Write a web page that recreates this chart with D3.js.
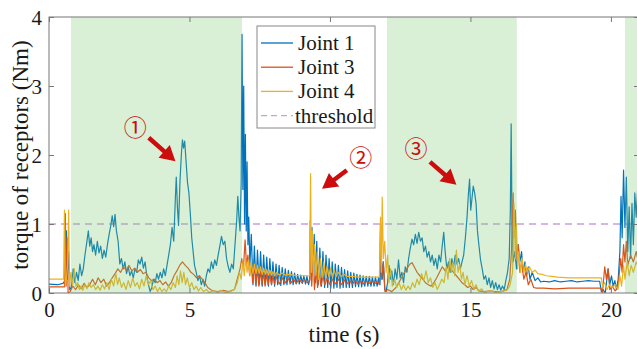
<!DOCTYPE html>
<html>
<head>
<meta charset="utf-8">
<script src="https://cdn.jsdelivr.net/npm/d3@7"></script>
<style>
  body { margin: 0; background: #fff; }
  svg { display: block; }
</style>
</head>
<body>
<svg id="chart" width="637" height="349"></svg>
<script>
// [time (s), torque (Nm)]
var joint1 = [
  [0,0.13],[0.3,0.12],[0.5,0.14],[0.55,0.17],[0.6,0.17],[0.62,0.9],[0.65,0.2],[0.7,0.6],[0.74,0.05],
  [0.8,0.08],[0.86,0.35],[0.92,0.15],[0.98,0.3],[1.04,0.18],[1.1,0.42],[1.16,0.25],[1.22,0.35],[1.28,0.55],
  [1.34,0.72],[1.4,0.9],[1.45,0.68],[1.5,0.8],[1.55,0.6],[1.6,0.7],[1.66,0.55],[1.72,0.75],[1.78,0.58],
  [1.84,0.68],[1.9,0.5],[1.96,0.62],[2.02,0.52],[2.08,0.7],[2.14,0.85],[2.2,0.98],[2.25,1.12],[2.3,0.96],
  [2.35,1.14],[2.4,0.9],[2.46,0.75],[2.52,0.42],[2.58,0.5],[2.64,0.35],[2.7,0.45],[2.76,0.28],[2.82,0.38],
  [2.88,0.25],[2.94,0.32],[3.0,0.22],[3.06,0.35],[3.12,0.3],[3.18,0.48],[3.24,0.42],[3.3,0.52],[3.36,0.36],
  [3.42,0.45],[3.48,0.25],[3.54,0.12],[3.6,0.02],[3.66,0.08],[3.72,0.2],[3.78,0.15],[3.84,0.28],[3.9,0.2],
  [3.96,0.3],[4.02,0.22],[4.08,0.35],[4.14,0.25],[4.2,0.4],[4.26,0.55],[4.32,0.7],[4.38,0.95],[4.44,0.75],
  [4.5,1.4],[4.53,1.68],[4.57,1.25],[4.61,0.98],[4.66,1.6],[4.71,2.0],[4.75,2.22],[4.79,2.1],[4.83,2.2],
  [4.88,1.9],[4.93,1.6],[4.98,1.45],[5.03,1.15],[5.08,0.8],[5.13,0.6],[5.18,0.4],[5.24,0.3],[5.3,0.18],
  [5.36,0.25],[5.42,0.12],[5.48,0.2],[5.54,0.1],[5.6,0.25],[5.66,0.35],[5.72,0.3],[5.78,0.45],[5.84,0.35],
  [5.9,0.48],[5.96,0.4],[6.02,0.55],[6.08,0.68],[6.14,0.82],[6.2,0.7],[6.26,0.75],[6.32,0.5],[6.38,0.38],
  [6.44,0.3],[6.5,0.42],[6.56,0.35],[6.62,0.7],[6.68,1.05],[6.72,1.4],[6.76,1.1],[6.8,0.9],[6.84,1.6],
  [6.87,3.75],[6.9,1.5],[6.93,3.0],[6.96,1.0],[6.99,2.3],[7.02,0.9],[7.05,1.9],[7.08,0.7],[7.11,1.1],
  [7.15,0.4],[7.2,0.85],[7.26,0.12],[7.31,0.68],[7.37,0.1],[7.42,0.62],[7.48,0.12],[7.53,0.6],[7.59,0.1],
  [7.64,0.55],[7.7,0.12],[7.75,0.52],[7.81,0.1],[7.86,0.5],[7.92,0.12],[7.97,0.45],[8.03,0.1],[8.08,0.42],
  [8.14,0.12],[8.19,0.4],[8.25,0.11],[8.3,0.37],[8.36,0.12],[8.41,0.35],[8.47,0.12],[8.52,0.33],[8.58,0.13],
  [8.63,0.31],[8.69,0.12],[8.74,0.29],[8.8,0.13],[8.85,0.27],[8.91,0.13],[8.96,0.26],[9.02,0.14],[9.07,0.25],
  [9.13,0.13],[9.18,0.24],[9.24,0.12],[9.28,0.2],[9.3,1.05],[9.33,0.3],[9.36,0.95],[9.4,0.25],[9.44,0.85],
  [9.48,0.15],[9.53,0.75],[9.58,0.12],[9.64,0.65],[9.7,0.1],[9.75,0.6],[9.81,0.08],[9.86,0.55],[9.92,0.08],
  [9.97,0.5],[10.03,0.07],[10.08,0.45],[10.14,0.07],[10.19,0.42],[10.25,0.08],[10.3,0.4],[10.36,0.07],
  [10.41,0.37],[10.47,0.08],[10.52,0.34],[10.58,0.08],[10.63,0.32],[10.69,0.08],[10.74,0.3],[10.8,0.08],
  [10.85,0.29],[10.91,0.09],[10.96,0.27],[11.02,0.09],[11.07,0.26],[11.13,0.09],[11.18,0.25],[11.24,0.1],
  [11.29,0.24],[11.35,0.1],[11.4,0.24],[11.46,0.1],[11.51,0.23],[11.57,0.1],[11.62,0.23],[11.68,0.1],
  [11.73,0.22],[11.78,0.12],[11.82,0.6],[11.86,0.2],[11.9,0.45],[11.95,0.05],[12.0,0.02],
  [12.05,0.15],[12.1,0.4],[12.15,0.2],[12.2,0.32],[12.26,0.12],[12.32,0.35],[12.38,0.2],[12.44,0.48],
  [12.5,0.22],[12.56,0.3],[12.62,0.15],[12.68,0.38],[12.74,0.3],[12.8,0.5],[12.86,0.65],[12.92,0.78],
  [12.98,0.7],[13.04,0.85],[13.1,0.72],[13.16,0.88],[13.22,0.75],[13.28,0.8],[13.34,0.6],[13.4,0.68],
  [13.46,0.52],[13.52,0.6],[13.58,0.45],[13.64,0.55],[13.7,0.4],[13.76,0.5],[13.82,0.35],[13.88,0.55],
  [13.94,0.45],[14.0,0.7],[14.05,0.88],[14.1,0.6],[14.16,0.35],[14.22,0.45],[14.28,0.3],[14.34,0.5],
  [14.4,0.38],[14.46,0.55],[14.52,0.42],[14.58,0.5],[14.64,0.35],[14.7,0.45],[14.76,0.55],[14.82,0.8],
  [14.88,1.1],[14.93,1.45],[14.97,1.65],[15.01,1.2],[15.05,1.35],[15.1,1.55],[15.15,1.45],[15.2,1.3],
  [15.25,0.9],[15.3,0.7],[15.36,0.48],[15.42,0.35],[15.48,0.2],[15.54,0.25],[15.6,0.12],[15.66,0.22],
  [15.72,0.08],[15.78,0.18],[15.84,0.06],[15.9,0.15],[15.96,0.05],[16.02,0.12],[16.08,0.04],[16.14,0.1],
  [16.2,0.05],[16.26,0.18],[16.32,0.3],[16.38,0.5],[16.42,1.2],[16.45,2.45],[16.48,1.0],[16.52,0.45],
  [16.58,0.6],[16.64,0.35],[16.7,0.7],[16.76,0.45],[16.82,0.6],[16.88,0.3],[16.94,0.45],[17.0,0.25],
  [17.06,0.38],[17.12,0.2],[17.2,0.3],[17.3,0.18],[17.4,0.22],[17.5,0.16],[17.6,0.17],[17.8,0.16],
  [18.0,0.18],[18.2,0.16],[18.4,0.17],[18.6,0.18],[18.8,0.16],[19.0,0.17],[19.2,0.18],[19.4,0.17],
  [19.6,0.17],[19.66,0.02],[19.72,0.05],[19.8,0.0],[19.9,0.35],[19.96,0.12],[20.02,0.25],[20.08,0.1],
  [20.14,0.18],[20.2,0.05],[20.26,0.2],[20.32,0.6],[20.36,1.4],[20.4,0.8],[20.45,1.78],[20.5,0.95],
  [20.55,1.68],[20.6,0.6],[20.65,1.25],[20.7,0.5],[20.75,1.3],[20.8,0.7],[20.85,1.45],[20.9,1.1],
  [20.95,1.5],[21.0,0.9]
];

var joint3 = [
  [0,0.09],[0.55,0.09],[0.58,1.15],[0.61,0.1],[0.65,0.8],[0.68,0.0],[0.75,0.02],[0.85,0.1],[0.95,0.05],
  [1.05,0.12],[1.15,0.06],[1.25,0.14],[1.35,0.08],[1.45,0.12],[1.55,0.2],[1.65,0.12],[1.75,0.22],
  [1.85,0.15],[1.95,0.2],[2.05,0.1],[2.15,0.15],[2.25,0.22],[2.35,0.28],[2.45,0.35],[2.55,0.3],
  [2.65,0.38],[2.75,0.33],[2.85,0.4],[2.95,0.32],[3.05,0.36],[3.15,0.3],[3.25,0.34],[3.35,0.28],
  [3.45,0.3],[3.55,0.22],[3.65,0.18],[3.75,0.2],[3.85,0.15],[3.95,0.18],[4.05,0.12],[4.15,0.16],
  [4.25,0.1],[4.35,0.15],[4.45,0.25],[4.55,0.32],[4.65,0.4],[4.75,0.45],[4.85,0.4],[4.95,0.36],
  [5.05,0.3],[5.15,0.27],[5.25,0.22],[5.35,0.25],[5.45,0.2],[5.55,0.15],[5.65,0.08],[5.75,0.05],
  [5.85,0.03],[6.0,0.02],[6.2,0.04],[6.4,0.02],[6.6,0.05],[6.7,0.2],[6.8,0.35],[6.86,0.5],[6.92,0.35],
  [6.98,0.77],[7.03,0.4],[7.08,0.55],[7.14,0.25],[7.2,0.4],[7.25,0.15],[7.31,0.4],[7.36,0.12],[7.42,0.35],
  [7.47,0.1],[7.53,0.32],[7.58,0.12],[7.64,0.3],[7.69,0.1],[7.75,0.28],[7.8,0.12],[7.86,0.27],[7.92,0.12],
  [7.97,0.25],[8.03,0.13],[8.08,0.24],[8.2,0.13],[8.3,0.22],[8.4,0.14],[8.5,0.22],[8.6,0.14],[8.7,0.2],
  [8.8,0.14],[8.9,0.2],[9.0,0.15],[9.1,0.19],[9.2,0.15],[9.28,0.18],[9.31,0.55],[9.35,0.1],[9.4,0.45],
  [9.45,0.05],[9.5,0.35],[9.56,0.08],[9.62,0.3],[9.68,0.1],[9.75,0.25],[9.82,0.12],[9.9,0.22],[10.0,0.12],
  [10.1,0.2],[10.2,0.13],[10.3,0.2],[10.4,0.12],[10.5,0.19],[10.6,0.13],[10.7,0.18],[10.8,0.13],
  [10.9,0.18],[11.0,0.13],[11.1,0.17],[11.2,0.13],[11.3,0.17],[11.4,0.14],[11.5,0.17],[11.6,0.14],
  [11.7,0.16],[11.76,0.12],[11.8,1.0],[11.84,0.2],[11.9,0.45],[11.96,0.02],[12.05,0.05],[12.2,0.02],
  [12.35,0.08],[12.45,0.15],[12.55,0.22],[12.65,0.3],[12.75,0.36],[12.85,0.42],[12.92,0.44],[13.0,0.38],
  [13.1,0.3],[13.2,0.25],[13.3,0.2],[13.4,0.15],[13.5,0.12],[13.6,0.1],[13.7,0.15],[13.8,0.22],
  [13.9,0.3],[14.0,0.38],[14.1,0.32],[14.2,0.4],[14.3,0.35],[14.4,0.3],[14.5,0.25],[14.6,0.2],
  [14.7,0.15],[14.8,0.12],[14.9,0.08],[15.0,0.1],[15.1,0.05],[15.2,0.08],[15.3,0.03],[15.5,0.02],
  [15.7,0.03],[15.9,0.02],[16.1,0.02],[16.3,0.05],[16.4,0.2],[16.46,0.6],[16.52,1.45],[16.55,0.8],
  [16.6,1.2],[16.65,0.5],[16.7,0.7],[16.76,0.3],[16.82,0.45],[16.9,0.2],[16.98,0.3],[17.06,0.12],
  [17.15,0.2],[17.25,0.08],[17.35,0.07],[17.6,0.07],[18.0,0.06],[18.5,0.07],[19.0,0.07],[19.5,0.07],
  [19.65,0.07],[19.7,0.0],[19.78,0.38],[19.84,0.2],[19.9,0.35],[19.96,0.05],[20.05,0.1],[20.15,0.03],
  [20.25,0.08],[20.35,0.5],[20.4,0.3],[20.45,0.7],[20.5,0.45],[20.55,0.75],[20.6,0.4],[20.7,0.55],
  [20.8,0.45],[20.9,0.6],[21.0,0.4]
];

var joint4 = [
  [0,0.2],[0.52,0.2],[0.55,1.2],[0.58,0.1],[0.62,0.2],[0.66,0.4],[0.7,1.2],[0.73,0.1],[0.78,0.3],
  [0.84,0.12],[0.9,0.35],[0.96,0.1],[1.02,0.15],[1.08,0.05],[1.14,0.1],[1.2,0.04],[1.28,0.12],[1.35,0.06],
  [1.42,0.15],[1.5,0.08],[1.58,0.12],[1.66,0.05],[1.74,0.1],[1.82,0.04],[1.9,0.12],[1.98,0.06],[2.06,0.15],
  [2.14,0.05],[2.22,0.2],[2.3,0.1],[2.38,0.28],[2.44,0.12],[2.5,0.22],[2.58,0.08],[2.66,0.15],[2.74,0.05],
  [2.82,0.18],[2.9,0.08],[2.98,0.22],[3.06,0.1],[3.14,0.15],[3.22,0.06],[3.3,0.2],[3.38,0.1],[3.46,0.25],
  [3.54,0.12],[3.62,0.18],[3.7,0.05],[3.78,0.1],[3.86,0.02],[3.94,0.08],[4.02,0.02],[4.1,0.06],[4.18,0.02],
  [4.26,0.1],[4.34,0.05],[4.42,0.15],[4.5,0.08],[4.56,0.25],[4.62,0.12],[4.68,0.32],[4.74,0.15],[4.8,0.3],
  [4.86,0.12],[4.92,0.22],[5.0,0.08],[5.08,0.15],[5.16,0.05],[5.24,0.1],[5.32,0.03],[5.4,0.08],[5.5,0.02],
  [5.6,0.05],[5.7,0.01],[5.85,0.03],[6.0,0.01],[6.15,0.03],[6.3,0.01],[6.45,0.02],[6.6,0.05],[6.7,0.15],
  [6.78,0.3],[6.84,0.2],[6.9,0.45],[6.95,0.25],[7.0,0.5],[7.05,0.3],[7.1,0.48],[7.15,0.25],[7.2,0.45],
  [7.26,0.28],[7.31,0.42],[7.37,0.28],[7.42,0.4],[7.48,0.28],[7.53,0.38],[7.59,0.27],[7.64,0.36],[7.7,0.27],
  [7.75,0.34],[7.81,0.26],[7.86,0.33],[7.92,0.26],[7.97,0.31],[8.03,0.25],[8.1,0.3],[8.2,0.26],[8.3,0.29],
  [8.4,0.26],[8.5,0.27],[8.7,0.26],[8.9,0.25],[9.1,0.25],[9.28,0.25],[9.31,1.73],[9.34,0.3],[9.37,0.9],
  [9.41,0.2],[9.45,0.7],[9.5,0.25],[9.55,0.6],[9.6,0.2],[9.66,0.5],[9.72,0.22],[9.78,0.45],[9.84,0.22],
  [9.9,0.4],[9.96,0.24],[10.02,0.36],[10.08,0.24],[10.15,0.33],[10.22,0.24],[10.3,0.3],[10.4,0.24],
  [10.5,0.27],[10.6,0.24],[10.8,0.24],[11.0,0.23],[11.2,0.23],[11.4,0.23],[11.6,0.23],[11.76,0.23],
  [11.8,1.1],[11.83,0.3],[11.86,1.39],[11.9,0.5],[11.95,0.75],[12.0,0.3],[12.05,0.55],[12.1,0.15],
  [12.16,0.35],[12.22,0.1],[12.3,0.2],[12.38,0.08],[12.46,0.15],[12.54,0.05],[12.62,0.12],[12.7,0.04],
  [12.78,0.1],[12.86,0.05],[12.94,0.15],[13.02,0.08],[13.1,0.2],[13.18,0.12],[13.26,0.28],[13.34,0.18],
  [13.42,0.32],[13.5,0.15],[13.58,0.22],[13.66,0.08],[13.74,0.15],[13.82,0.05],[13.9,0.12],[13.98,0.2],
  [14.06,0.15],[14.14,0.38],[14.2,0.2],[14.26,0.5],[14.32,0.3],[14.38,0.45],[14.44,0.25],[14.5,0.62],
  [14.56,0.3],[14.62,0.42],[14.68,0.2],[14.74,0.3],[14.8,0.12],[14.88,0.25],[14.96,0.1],[15.04,0.18],
  [15.12,0.06],[15.2,0.12],[15.28,0.03],[15.4,0.06],[15.5,0.01],[15.7,0.03],[15.9,0.01],[16.1,0.02],
  [16.3,0.04],[16.4,0.1],[16.5,0.3],[16.55,1.3],[16.6,0.5],[16.64,1.0],[16.68,0.35],[16.72,0.6],
  [16.78,0.3],[16.84,0.5],[16.9,0.28],[16.96,0.42],[17.02,0.3],[17.1,0.38],[17.2,0.3],[17.3,0.33],
  [17.4,0.28],[17.55,0.27],[17.7,0.25],[17.9,0.24],[18.1,0.23],[18.5,0.22],[19.0,0.22],[19.5,0.22],
  [19.66,0.22],[19.7,0.1],[19.78,0.15],[19.86,0.05],[19.95,0.12],[20.05,0.08],[20.15,0.12],[20.25,0.05],
  [20.32,0.25],[20.38,0.1],[20.45,0.4],[20.5,0.2],[20.58,0.45],[20.65,0.25],[20.72,0.4],[20.8,0.3],
  [20.9,0.45],[21.0,0.35]
];

var seriesNames = ["Joint 1", "Joint 3", "Joint 4", "threshold"];
var seriesColors = ["#0072BD", "#D95319", "#EDB120", "#c9a0dc"];
var threshold = 1;
// contact phases (shaded), start/end in s
var phases = [[0.78, 6.87], [12.03, 16.65], [20.5, 21]];
var xTicks = [0, 5, 10, 15, 20];
var yTicks = [0, 1, 2, 3, 4];
// circled markers: label, [t, v] of label, arrow tail, arrow tip
var marks = [
  { label: "①", at: [3.07, 2.4], tail: [3.55, 2.25], tip: [4.5, 1.91] },
  { label: "②", at: [11.1, 1.96], tail: [10.6, 1.78], tip: [9.72, 1.51] },
  { label: "③", at: [13.06, 2.09], tail: [13.56, 1.9], tip: [14.5, 1.57] }
];

var svg = d3.select("#chart"),
    margin = { top: 17, left: 49 },
    plotW = 590,
    plotH = 276;

var x = d3.scaleLinear().domain([0, 21]).range([margin.left, margin.left + plotW]);
var y = d3.scaleLinear().domain([0, 4]).range([margin.top + plotH, margin.top]);

var serif = "'Liberation Serif', 'Times New Roman', serif";

svg.append("clipPath").attr("id", "clip")
  .append("rect")
  .attr("x", x(0)).attr("y", y(4))
  .attr("width", plotW).attr("height", plotH);

var plot = svg.append("g").attr("clip-path", "url(#clip)");

// threshold
plot.append("line")
  .attr("x1", x(0)).attr("x2", x(21))
  .attr("y1", y(threshold)).attr("y2", y(threshold))
  .attr("stroke", seriesColors[3])
  .attr("stroke-width", 1.3)
  .attr("stroke-dasharray", "7,5");

var line = d3.line()
  .x(function (d) { return x(d[0]); })
  .y(function (d) { return y(d[1]); });

[joint1, joint3, joint4].forEach(function (s, i) {
  plot.append("path")
    .datum(s)
    .attr("d", line)
    .attr("fill", "none")
    .attr("stroke", seriesColors[i])
    .attr("stroke-width", 1.2)
    .attr("stroke-linejoin", "round");
});

// shaded phases drawn over the lines (transparent patch)
plot.selectAll("rect.phase")
  .data(phases)
  .enter().append("rect")
  .attr("class", "phase")
  .attr("x", function (d) { return x(d[0]); })
  .attr("width", function (d) { return x(d[1]) - x(d[0]); })
  .attr("y", y(4))
  .attr("height", plotH)
  .attr("fill", "#78c86e")
  .attr("fill-opacity", 0.28);

// axes box + ticks
var axisColor = "#777";
svg.append("rect")
  .attr("x", x(0)).attr("y", y(4))
  .attr("width", plotW).attr("height", plotH)
  .attr("fill", "none")
  .attr("stroke", axisColor)
  .attr("stroke-width", 1);

var fmt = d3.format("d");
var xAxis = svg.append("g")
  .attr("transform", "translate(0," + y(0) + ")")
  .call(d3.axisBottom(x).tickValues(xTicks).tickFormat(fmt).tickSize(-5).tickPadding(12));
var xAxisTop = svg.append("g")
  .attr("transform", "translate(0," + y(4) + ")")
  .call(d3.axisTop(x).tickValues(xTicks).tickSize(-5).tickFormat(""));
var yAxis = svg.append("g")
  .attr("transform", "translate(" + x(0) + ",0)")
  .call(d3.axisLeft(y).tickValues(yTicks).tickFormat(fmt).tickSize(-5).tickPadding(7));
var yAxisRight = svg.append("g")
  .attr("transform", "translate(" + x(21) + ",0)")
  .call(d3.axisRight(y).tickValues(yTicks).tickSize(-5).tickFormat(""));

[xAxis, xAxisTop, yAxis, yAxisRight].forEach(function (a) {
  a.attr("font-family", serif);
  a.select(".domain").remove();
  a.selectAll(".tick line").attr("stroke", axisColor);
  a.selectAll("text")
    .style("font-family", serif)
    .attr("font-size", 21)
    .attr("fill", "#1a1a1a");
});
xAxis.selectAll("text").attr("dy", "0.55em");
yAxis.selectAll("text").attr("dy", "0.34em");

svg.append("text")
  .attr("x", x(10.5)).attr("y", 342)
  .attr("text-anchor", "middle")
  .style("font-family", serif).attr("font-size", 23)
  .attr("fill", "#1a1a1a")
  .text("time (s)");

svg.append("text")
  .attr("transform", "translate(28," + y(2) + ") rotate(-90)")
  .attr("text-anchor", "middle")
  .style("font-family", serif).attr("font-size", 23)
  .attr("fill", "#1a1a1a")
  .text("torque of receptors (Nm)");

// legend
var legend = svg.append("g").attr("transform", "translate(257,26)");
legend.append("rect")
  .attr("width", 118).attr("height", 102)
  .attr("fill", "#fff")
  .attr("stroke", "#888")
  .attr("stroke-width", 1);
seriesNames.forEach(function (name, i) {
  var ly = 17 + i * 24.2;
  legend.append("line")
    .attr("x1", 4).attr("x2", 36)
    .attr("y1", ly).attr("y2", ly)
    .attr("stroke", seriesColors[i])
    .attr("stroke-width", 1.3)
    .attr("stroke-dasharray", i === 3 ? "6,4" : null);
  legend.append("text")
    .attr("x", i === 3 ? 38 : 41).attr("y", ly + 7)
    .style("font-family", serif).attr("font-size", 21)
    .attr("fill", "#1a1a1a")
    .text(name);
});

// circled markers with arrows
var red = "#cc0d0d";
marks.forEach(function (m) {
  var tx = x(m.tail[0]), ty = y(m.tail[1]),
      px = x(m.tip[0]), py = y(m.tip[1]);
  var dx = px - tx, dy = py - ty, len = Math.sqrt(dx * dx + dy * dy);
  var ux = dx / len, uy = dy / len;
  var headL = 15, headW = 8.5;
  var bx = px - ux * headL, by = py - uy * headL;
  svg.append("line")
    .attr("x1", tx).attr("y1", ty)
    .attr("x2", bx + ux * 2).attr("y2", by + uy * 2)
    .attr("stroke", red).attr("stroke-width", 4.5);
  svg.append("path")
    .attr("d", "M" + px + "," + py +
      "L" + (bx - uy * headW) + "," + (by + ux * headW) +
      "L" + (bx + uy * headW) + "," + (by - ux * headW) + "Z")
    .attr("fill", red);
  svg.append("text")
    .attr("x", x(m.at[0])).attr("y", y(m.at[1]))
    .attr("text-anchor", "middle")
    .attr("dy", "0.36em")
    .style("font-family", "'Noto Sans CJK SC', 'DejaVu Sans', sans-serif")
    .attr("font-size", 23)
    .attr("fill", red)
    .text(m.label);
});
</script>
</body>
</html>
